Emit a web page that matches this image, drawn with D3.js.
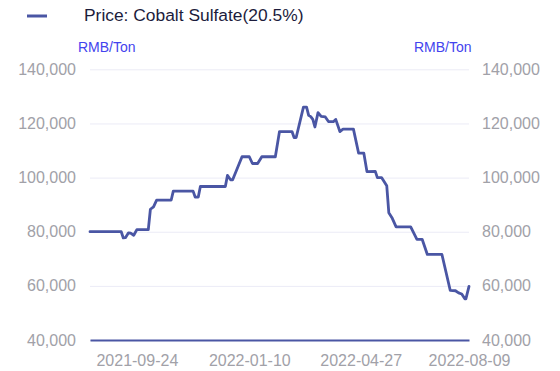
<!DOCTYPE html>
<html>
<head>
<meta charset="utf-8">
<script src="https://cdn.jsdelivr.net/npm/d3@7"></script>
<style>
  body { margin: 0; background: #fff; }
  svg { display: block; font-family: Arial, "Liberation Sans", sans-serif; }
</style>
</head>
<body>
<script>
// Price series (date, RMB/Ton)
const dates = [
  "2021-08-10", "2021-09-09", "2021-09-11", "2021-09-13", "2021-09-16", "2021-09-18",
  "2021-09-21", "2021-09-24", "2021-10-05", "2021-10-07", "2021-10-10", "2021-10-13",
  "2021-10-27", "2021-10-29", "2021-11-17", "2021-11-19", "2021-11-22", "2021-11-24",
  "2021-12-18", "2021-12-20", "2021-12-23", "2021-12-25", "2022-01-03", "2022-01-10",
  "2022-01-13", "2022-01-18", "2022-01-22", "2022-02-04", "2022-02-08", "2022-02-20",
  "2022-02-22", "2022-02-24", "2022-03-03", "2022-03-06", "2022-03-08", "2022-03-10",
  "2022-03-12", "2022-03-14", "2022-03-17", "2022-03-20", "2022-03-24", "2022-03-27",
  "2022-04-01", "2022-04-03", "2022-04-07", "2022-04-10", "2022-04-20", "2022-04-25",
  "2022-04-30", "2022-05-03", "2022-05-11", "2022-05-13", "2022-05-17", "2022-05-22",
  "2022-05-24", "2022-05-27", "2022-05-31", "2022-06-14", "2022-06-20", "2022-06-25",
  "2022-06-30", "2022-07-14", "2022-07-22", "2022-07-27", "2022-07-30", "2022-08-02",
  "2022-08-05", "2022-08-06", "2022-08-09"
];
const prices = [
  80000, 80000, 77700, 77800, 79600, 79500,
  78700, 80800, 80800, 88300, 89200, 91700,
  91700, 95000, 95000, 92800, 92800, 96700,
  96700, 100800, 99200, 99200, 107700, 107700,
  105200, 105200, 107700, 107700, 117000, 117000,
  114800, 114800, 126000, 126000, 123000, 122500,
  121500, 118700, 124000, 122600, 122400, 120700,
  120700, 121500, 117000, 117900, 117900, 109000,
  109000, 102200, 102300, 100000, 100000, 97000,
  87000, 85200, 81800, 81800, 77200, 77200,
  71600, 71600, 58300, 58200, 57400, 57000,
  55200, 55200, 59800
];
const yTicks = [40000, 60000, 80000, 100000, 120000, 140000];
const xTickLabels = ["2021-09-24", "2022-01-10", "2022-04-27", "2022-08-09"];
const seriesName = "Price: Cobalt Sulfate(20.5%)";
const unitLabel = "RMB/Ton";

const w = 560, h = 371;
const plotLeft = 90, plotRight = 469, plotTop = 69.3, plotBottom = 340;
const lineColor = "#4a56a4";

const parse = d3.timeParse("%Y-%m-%d");
const data = dates.map((d, i) => ({ date: parse(d), value: prices[i] }));

const svg = d3.select("body").append("svg")
  .attr("width", w)
  .attr("height", h);

const x = d3.scaleTime()
  .domain([parse("2021-08-10"), parse("2022-08-09")])
  .range([plotLeft, plotRight]);

const y = d3.scaleLinear()
  .domain([40000, 140000])
  .range([plotBottom, plotTop]);

// gridlines
svg.append("g")
  .attr("transform", `translate(${plotLeft},0)`)
  .call(d3.axisLeft(y).tickValues(yTicks).tickSize(-(plotRight - plotLeft)).tickFormat(""))
  .call(g => g.select(".domain").remove())
  .call(g => g.selectAll("line").attr("stroke", "#ebebf6").attr("stroke-width", 1));

// left axis labels
svg.append("g")
  .attr("transform", `translate(${plotLeft},0)`)
  .call(d3.axisLeft(y).tickValues(yTicks).tickSize(0).tickPadding(14).tickFormat(d3.format(",")))
  .call(g => g.select(".domain").remove())
  .call(g => g.selectAll("text")
    .attr("fill", "#a1a1a8")
    .style("font-size", "16px")
    .style("font-family", "Arial, 'Liberation Sans', sans-serif"));

// right axis labels
svg.append("g")
  .attr("transform", `translate(${plotRight},0)`)
  .call(d3.axisRight(y).tickValues(yTicks).tickSize(0).tickPadding(13).tickFormat(d3.format(",")))
  .call(g => g.select(".domain").remove())
  .call(g => g.selectAll("text")
    .attr("fill", "#a1a1a8")
    .style("font-size", "16px")
    .style("font-family", "Arial, 'Liberation Sans', sans-serif"));

// x axis
svg.append("g")
  .attr("transform", `translate(0,${plotBottom})`)
  .call(d3.axisBottom(x).tickValues(xTickLabels.map(parse)).tickSize(0).tickPadding(15)
    .tickFormat(d3.timeFormat("%Y-%m-%d")))
  .call(g => g.select(".domain").attr("stroke", lineColor).attr("stroke-width", 2.2))
  .call(g => g.selectAll("text")
    .attr("fill", "#a1a1a8")
    .style("font-size", "16px")
    .style("font-family", "Arial, 'Liberation Sans', sans-serif"));

// price line
const line = d3.line()
  .x(d => x(d.date))
  .y(d => y(d.value));

svg.append("path")
  .datum(data)
  .attr("d", line)
  .attr("fill", "none")
  .attr("stroke", lineColor)
  .attr("stroke-width", 2.8)
  .attr("stroke-linejoin", "round")
  .attr("stroke-linecap", "round");

// legend
svg.append("line")
  .attr("x1", 27).attr("x2", 47)
  .attr("y1", 16).attr("y2", 16)
  .attr("stroke", lineColor)
  .attr("stroke-width", 3);

svg.append("text")
  .text(seriesName)
  .attr("x", 84)
  .attr("y", 21)
  .attr("fill", "#1c1c3c")
  .style("font-size", "17.4px");

// unit labels
svg.append("text")
  .text(unitLabel)
  .attr("x", 78)
  .attr("y", 52)
  .attr("fill", "#4343ee")
  .style("font-size", "14px");

svg.append("text")
  .text(unitLabel)
  .attr("x", 414)
  .attr("y", 52)
  .attr("fill", "#4343ee")
  .style("font-size", "14px");
</script>
</body>
</html>
